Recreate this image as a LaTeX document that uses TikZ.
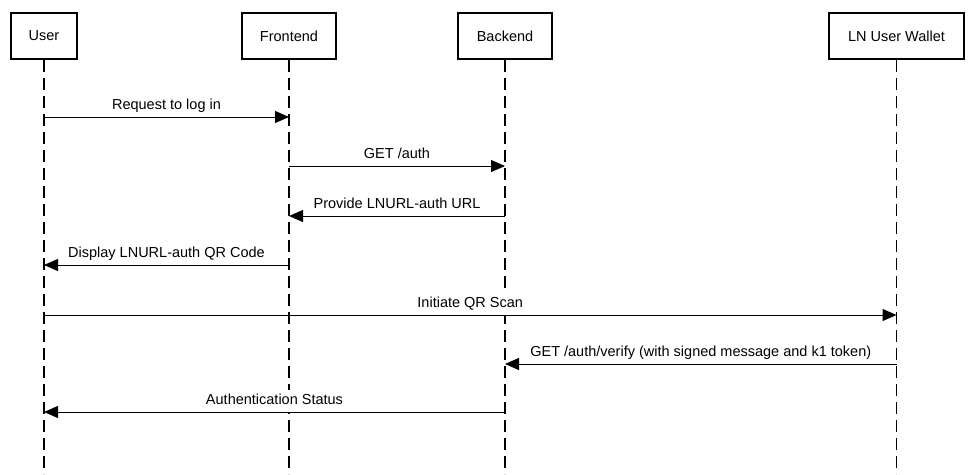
\documentclass[tikz,border=0pt]{standalone}
\usepackage{fontspec}
\setmainfont{Liberation Sans}
\usetikzlibrary{arrows.meta}
\begin{document}
\begin{tikzpicture}[x=1pt,y=-1pt,
  actor/.style={draw, line width=2pt, minimum height=46pt, inner sep=0pt, font=\fontsize{14.5}{17}\selectfont},
  life/.style={line width=1.2pt, dash pattern=on 12pt off 6pt},
  msg/.style={line width=1pt, -{Triangle[length=14pt,width=12pt]}},
  lbl/.style={fill=white, anchor=south, inner xsep=1pt, inner ysep=4pt, text height=11pt, text depth=3pt, font=\fontsize{14.5}{17}\selectfont}]
\useasboundingbox (0,0) rectangle (973,474);
% actors
\node[actor, minimum width=66pt]  (user)   at (44,36)    {User};
\node[actor, minimum width=94pt]  (front)  at (289,36)   {Frontend};
\node[actor, minimum width=94pt]  (back)   at (505,36)   {Backend};
\node[actor, minimum width=135pt] (wallet) at (896.5,36) {LN User Wallet};
% lifeline ends
\coordinate (userEnd)   at (44,474);
\coordinate (frontEnd)  at (289,474);
\coordinate (backEnd)   at (505,474);
\coordinate (walletEnd) at (896.5,474);
\draw[life] (user.south)   -- (userEnd);
\draw[life] (front.south)  -- (frontEnd);
\draw[life] (back.south)   -- (backEnd);
\draw[life] (wallet.south) -- (walletEnd);
% message anchor points
\coordinate (u1) at (44,117);   \coordinate (f1) at (289,117);
\coordinate (f2) at (289,166);  \coordinate (b2) at (505,166);
\coordinate (b3) at (505,216);  \coordinate (f3) at (289,216);
\coordinate (f4) at (289,265);  \coordinate (u4) at (44,265);
\coordinate (u5) at (44,315);   \coordinate (w5) at (896.5,315);
\coordinate (w6) at (896.5,364); \coordinate (b6) at (505,364);
\coordinate (b7) at (505,412);  \coordinate (u7) at (44,412);
% messages
\draw[msg] (u1) -- (f1) node[lbl, midway] (l1) {Request to log in};
\draw[msg] (f2) -- (b2) node[lbl, midway] (l2) {GET /auth};
\draw[msg] (b3) -- (f3) node[lbl, midway] (l3) {Provide LNURL-auth URL};
\draw[msg] (f4) -- (u4) node[lbl, midway] (l4) {Display LNURL-auth QR Code};
\draw[msg] (u5) -- (w5) node[lbl, midway] (l5) {Initiate QR Scan};
\draw[msg] (w6) -- (b6) node[lbl, midway] (l6) {GET /auth/verify (with signed message and k1 token)};
\draw[msg] (b7) -- (u7) node[lbl, midway] (l7) {Authentication Status};
\end{tikzpicture}
\end{document}
